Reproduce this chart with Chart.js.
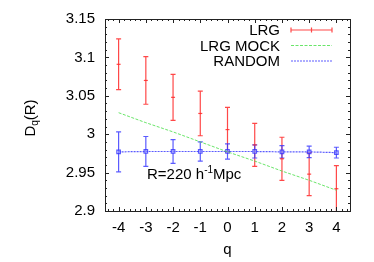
<!DOCTYPE html>
<html><head><meta charset="utf-8">
<script src="https://cdn.jsdelivr.net/npm/chart.js@4/dist/chart.umd.min.js"></script>
<style>html,body{margin:0;padding:0;background:#fff}canvas{display:block}</style>
</head><body>
<div style="width:374px;height:262px"><canvas id="c" width="374" height="262"></canvas></div>
<script>
const qValues = [-4, -3, -2, -1, 0, 1, 2, 3, 4];
const lrgValues = [3.091, 3.070, 3.048, 3.027, 3.006, 2.986, 2.968, 2.948, 2.929];
const lrgErrors = [0.033, 0.031, 0.030, 0.029, 0.029, 0.028, 0.028, 0.028, 0.030];
const mockValues = [3.028, 3.015, 3.003, 2.990, 2.977, 2.965, 2.952, 2.940, 2.927];
const randomValues = [2.977, 2.9775, 2.9775, 2.9775, 2.9775, 2.9775, 2.977, 2.977, 2.976];
const randomErrors = [0.026, 0.0195, 0.0155, 0.0125, 0.010, 0.0085, 0.008, 0.0075, 0.007];
const xTicks = [-4, -3, -2, -1, 0, 1, 2, 3, 4];
const yTicks = [2.9, 2.95, 3.0, 3.05, 3.1, 3.15];
const seriesNames = ['LRG', 'LRG MOCK', 'RANDOM'];
const annotationText = ['R=220 h', '-1', 'Mpc'];
const yTitle = ['D', 'q', '(R)'];
const xTitle = 'q';

const RED = 'rgba(255,40,40,0.85)';
const GREEN = 'rgba(80,225,80,0.85)';
const BLUE = 'rgba(50,50,255,0.8)';
const FONT = '"Liberation Sans", Arial, Helvetica, sans-serif';

const pts = (ys) => qValues.map((q, i) => ({x: q, y: ys[i]}));

const errorBars = {
  id: 'errorBars',
  beforeDatasetsDraw(chart) {
    const {ctx, chartArea: a, scales: {x, y}} = chart;
    ctx.save();
    ctx.beginPath(); ctx.rect(a.left, a.top, a.right - a.left, a.bottom - a.top); ctx.clip();
    const draw = (vals, errs, color) => {
      ctx.strokeStyle = color; ctx.lineWidth = 1.2;
      qValues.forEach((q, i) => {
        const px = x.getPixelForValue(q);
        const t = y.getPixelForValue(vals[i] + errs[i]);
        const b = y.getPixelForValue(vals[i] - errs[i]);
        ctx.beginPath();
        ctx.moveTo(px, t); ctx.lineTo(px, b);
        ctx.moveTo(px - 2.5, t); ctx.lineTo(px + 2.5, t);
        ctx.moveTo(px - 2.5, b); ctx.lineTo(px + 2.5, b);
        ctx.stroke();
      });
    };
    draw(lrgValues, lrgErrors, RED);
    draw(randomValues, randomErrors, BLUE);
    ctx.restore();
  }
};

const frame = {
  id: 'frame',
  afterDraw(chart) {
    const {ctx, chartArea: a, scales: {x, y}} = chart;
    ctx.save();
    ctx.strokeStyle = '#222'; ctx.lineWidth = 1;
    ctx.strokeRect(Math.round(a.left) + 0.5, Math.round(a.top) + 0.5, Math.round(a.right - a.left), Math.round(a.bottom - a.top));
    ctx.beginPath();
    for (let k = -22; k <= 22; k++) {
      const v = k * 0.2;
      const px = Math.round(x.getPixelForValue(v)) + 0.5;
      const major = k % 5 === 0;
      const len = major ? 4 : 2;
      ctx.moveTo(px, a.bottom); ctx.lineTo(px, a.bottom - len);
      ctx.moveTo(px, a.top); ctx.lineTo(px, a.top + len);
    }
    for (let k = 290; k <= 315; k++) {
      const v = k / 100;
      const py = Math.round(y.getPixelForValue(v)) + 0.5;
      const major = k % 5 === 0;
      const len = major ? 4 : 2;
      ctx.moveTo(a.left, py); ctx.lineTo(a.left + len, py);
      ctx.moveTo(a.right, py); ctx.lineTo(a.right - len, py);
    }
    ctx.stroke();

    // legend
    ctx.fillStyle = '#000';
    ctx.font = '15px ' + FONT;
    ctx.textAlign = 'right'; ctx.textBaseline = 'middle';
    const lx = 280, sx0 = 291, sx1 = 332;
    const ly = [30, 45.5, 61];
    seriesNames.forEach((n, i) => ctx.fillText(n, lx, ly[i] + 1));
    ctx.lineWidth = 1.2;
    ctx.strokeStyle = RED;
    ctx.beginPath();
    ctx.moveTo(sx0, ly[0]); ctx.lineTo(sx1, ly[0]);
    [sx0, (sx0 + sx1) / 2, sx1].forEach(px => { ctx.moveTo(px, ly[0] - 2.5); ctx.lineTo(px, ly[0] + 2.5); });
    ctx.stroke();
    ctx.strokeStyle = GREEN; ctx.setLineDash([3, 1.5]);
    ctx.beginPath(); ctx.moveTo(sx0, ly[1]); ctx.lineTo(sx1, ly[1]); ctx.stroke();
    ctx.strokeStyle = BLUE; ctx.setLineDash([2, 1]);
    ctx.beginPath(); ctx.moveTo(sx0, ly[2]); ctx.lineTo(sx1, ly[2]); ctx.stroke();
    ctx.setLineDash([]);

    // annotation
    ctx.textAlign = 'left'; ctx.textBaseline = 'alphabetic';
    ctx.font = '15px ' + FONT;
    let tx = 147; const ty = 179;
    ctx.fillText(annotationText[0], tx, ty);
    tx += ctx.measureText(annotationText[0]).width;
    ctx.font = '10px ' + FONT;
    ctx.fillText(annotationText[1], tx, ty - 6);
    tx += ctx.measureText(annotationText[1]).width;
    ctx.font = '15px ' + FONT;
    ctx.fillText(annotationText[2], tx, ty);

    // x title
    ctx.textAlign = 'center';
    ctx.fillText(xTitle, (a.left + a.right) / 2, 254);

    // y title rotated
    ctx.save();
    ctx.translate(35, 118);
    ctx.rotate(-Math.PI / 2);
    ctx.font = '15px ' + FONT;
    const w0 = ctx.measureText(yTitle[0]).width;
    ctx.font = '10px ' + FONT;
    const w1 = ctx.measureText(yTitle[1]).width;
    ctx.font = '15px ' + FONT;
    const w2 = ctx.measureText(yTitle[2]).width;
    let sx = -(w0 + w1 + w2) / 2;
    ctx.textAlign = 'left';
    ctx.fillText(yTitle[0], sx, 0); sx += w0;
    ctx.font = '10px ' + FONT;
    ctx.fillText(yTitle[1], sx, 3); sx += w1;
    ctx.font = '15px ' + FONT;
    ctx.fillText(yTitle[2], sx, 0);
    ctx.restore();
    ctx.restore();
  }
};

new Chart(document.getElementById('c'), {
  type: 'scatter',
  data: {
    datasets: [
      { label: seriesNames[0], data: pts(lrgValues), showLine: false,
        pointStyle: 'line', pointRadius: 2, borderColor: RED, borderWidth: 1.2, pointHoverRadius: 2 },
      { label: seriesNames[1], data: pts(mockValues), showLine: true,
        borderColor: GREEN, borderWidth: 1, borderDash: [3, 1.5], pointRadius: 0 },
      { label: seriesNames[2], data: pts(randomValues), showLine: true,
        borderColor: BLUE, borderWidth: 1.2, borderDash: [2, 1], pointStyle: 'rect',
        pointRadius: 2.5, pointBorderColor: BLUE, pointBackgroundColor: 'rgba(200,200,255,0.4)', pointBorderWidth: 1.2 }
    ]
  },
  options: {
    responsive: false, animation: false, devicePixelRatio: 1,
    layout: { padding: { left: 0, right: 24, top: 19, bottom: 0 } },
    plugins: { legend: { display: false }, tooltip: { enabled: false } },
    scales: {
      x: { type: 'linear', min: -4.5, max: 4.5,
        afterBuildTicks: s => { s.ticks = xTicks.map(v => ({value: v})); },
        afterFit: s => { s.height = 51; },
        grid: { display: false, drawTicks: false, tickLength: 0 }, border: { display: false },
        ticks: { color: '#000', font: { family: FONT, size: 15 }, padding: 8,
          callback: v => String(v) } },
      y: { type: 'linear', min: 2.9, max: 3.15,
        afterBuildTicks: s => { s.ticks = yTicks.map(v => ({value: v})); },
        afterFit: s => { s.width = 105; },
        grid: { display: false, drawTicks: false, tickLength: 0 }, border: { display: false },
        ticks: { color: '#000', font: { family: FONT, size: 15 }, padding: 10,
          callback: v => String(Number(v.toFixed(2))) } }
    }
  },
  plugins: [errorBars, frame]
});
</script>
</body></html>
